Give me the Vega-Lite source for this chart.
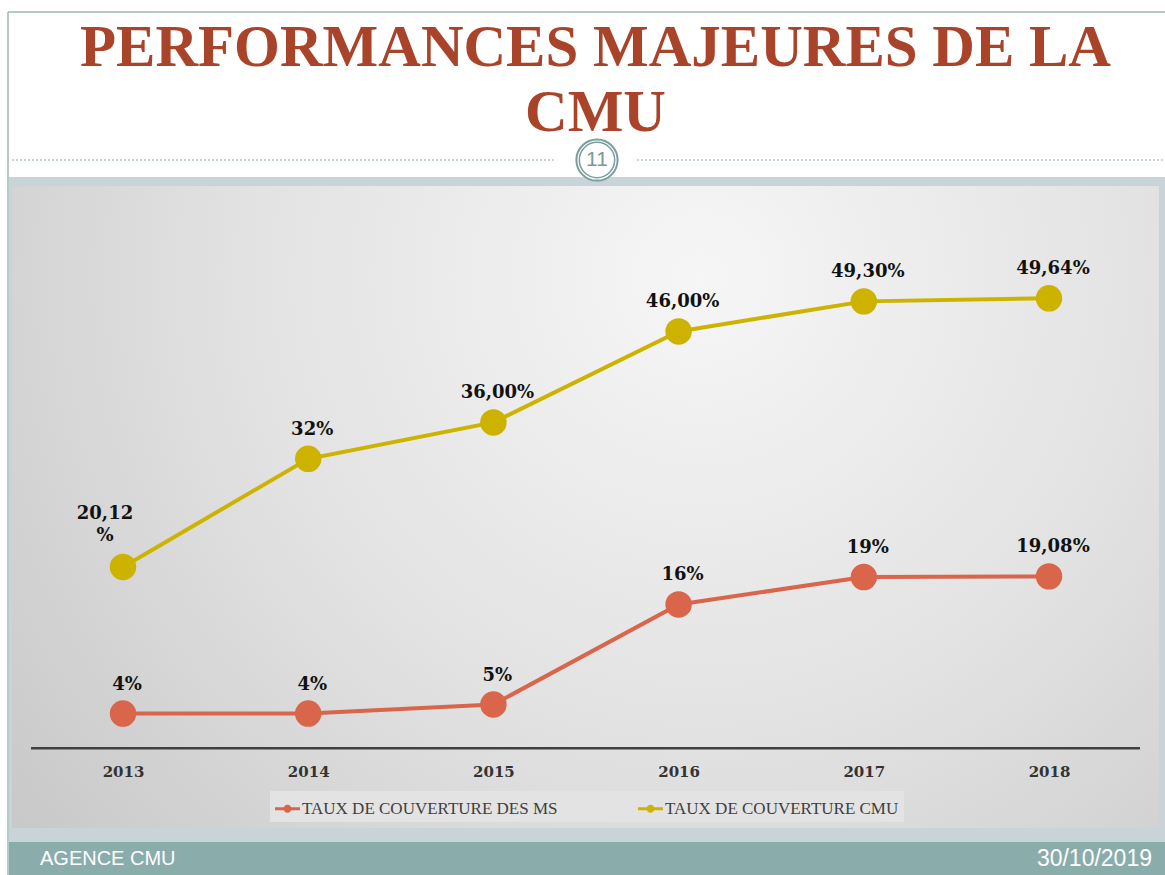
{
  "$schema": "https://vega.github.io/schema/vega-lite/v6.json",
  "autosize": "none",
  "width": 1165,
  "height": 875,
  "padding": 0,
  "background": "#ffffff",
  "title": {
    "text": ["PERFORMANCES MAJEURES DE LA", "CMU"],
    "font": "Liberation Serif",
    "fontSize": 59,
    "fontWeight": "bold",
    "color": "#a9442b",
    "anchor": "middle",
    "frame": "group",
    "lineHeight": 65,
    "offset": -143,
    "dx": 13
  },
  "config": {
    "view": {"stroke": null},
    "text": {"lineBreak": "\n"}
  },
  "resolve": {
    "axis": {"x": "independent", "y": "independent"},
    "legend": {"color": "independent"}
  },
  "data": {
    "values": [
      {"year": 2013, "series": "TAUX DE COUVERTURE DES MS", "value": 4, "label": "4%"},
      {"year": 2014, "series": "TAUX DE COUVERTURE DES MS", "value": 4, "label": "4%"},
      {"year": 2015, "series": "TAUX DE COUVERTURE DES MS", "value": 5, "label": "5%"},
      {"year": 2016, "series": "TAUX DE COUVERTURE DES MS", "value": 16, "label": "16%"},
      {"year": 2017, "series": "TAUX DE COUVERTURE DES MS", "value": 19, "label": "19%"},
      {"year": 2018, "series": "TAUX DE COUVERTURE DES MS", "value": 19.08, "label": "19,08%"},
      {"year": 2013, "series": "TAUX DE COUVERTURE CMU", "value": 20.12, "label": "20,12\n%"},
      {"year": 2014, "series": "TAUX DE COUVERTURE CMU", "value": 32, "label": "32%"},
      {"year": 2015, "series": "TAUX DE COUVERTURE CMU", "value": 36, "label": "36,00%"},
      {"year": 2016, "series": "TAUX DE COUVERTURE CMU", "value": 46, "label": "46,00%"},
      {"year": 2017, "series": "TAUX DE COUVERTURE CMU", "value": 49.3, "label": "49,30%"},
      {"year": 2018, "series": "TAUX DE COUVERTURE CMU", "value": 49.64, "label": "49,64%"}
    ]
  },
  "layer": [
    {
      "data": {"values": [{"k": 1}]},
      "mark": {"type": "rect", "color": "#c9d4d9"},
      "encoding": {
        "x": {"datum": 2012.38445, "type": "quantitative", "axis": null},
        "x2": {"datum": 2018.62635},
        "y": {"datum": 62.967, "type": "quantitative", "axis": null},
        "y2": {"datum": -10.110}
      }
    },
    {
      "data": {"values": [{"k": 1}]},
      "mark": {
        "type": "rect",
        "color": {
          "gradient": "radial",
          "x1": 0.6, "y1": 0.3, "r1": 0,
          "x2": 0.6, "y2": 0.3, "r2": 0.8,
          "stops": [
            {"offset": 0, "color": "#f6f6f6"},
            {"offset": 0.5, "color": "#e2e2e2"},
            {"offset": 1, "color": "#c6c6c6"}
          ]
        }
      },
      "encoding": {
        "x": {"datum": 2012.40065, "type": "quantitative", "axis": null},
        "x2": {"datum": 2018.59395},
        "y": {"datum": 61.978, "type": "quantitative", "axis": null},
        "y2": {"datum": -8.571}
      }
    },
    {
      "data": {"values": [{"k": 1}]},
      "mark": {"type": "rect", "color": "#8aacab"},
      "encoding": {
        "x": {"datum": 2012.38445, "type": "quantitative", "axis": null},
        "x2": {"datum": 2018.62635},
        "y": {"datum": -10.110, "type": "quantitative", "axis": null},
        "y2": {"datum": -13.736}
      }
    },
    {
      "data": {"values": [{"k": 1}]},
      "mark": {"type": "rule", "color": "#9fb8b8", "strokeWidth": 1.5},
      "encoding": {
        "x": {"datum": 2012.37905, "type": "quantitative", "axis": null},
        "x2": {"datum": 2018.62635},
        "y": {"datum": 81.099, "type": "quantitative", "axis": null}
      }
    },
    {
      "data": {"values": [{"k": 1}]},
      "mark": {"type": "rule", "color": "#9fb8b8", "strokeWidth": 1.5},
      "encoding": {
        "x": {"datum": 2012.37905, "type": "quantitative", "axis": null},
        "y": {"datum": 81.099, "type": "quantitative", "axis": null},
        "y2": {"datum": -13.736}
      }
    },
    {
      "data": {"values": [{"k": 1}]},
      "mark": {"type": "rule", "color": "#8fabab", "strokeWidth": 1, "strokeDash": [2, 2]},
      "encoding": {
        "x": {"datum": 2012.40065, "type": "quantitative", "axis": null},
        "x2": {"datum": 2015.33261},
        "y": {"datum": 64.835, "type": "quantitative", "axis": null}
      }
    },
    {
      "data": {"values": [{"k": 1}]},
      "mark": {"type": "rule", "color": "#8fabab", "strokeWidth": 1, "strokeDash": [2, 2]},
      "encoding": {
        "x": {"datum": 2015.77538, "type": "quantitative", "axis": null},
        "x2": {"datum": 2018.62635},
        "y": {"datum": 64.835, "type": "quantitative", "axis": null}
      }
    },
    {
      "data": {"values": [{"k": 1}]},
      "mark": {"type": "point", "shape": "circle", "filled": true, "fill": "#ffffff", "stroke": "#7a9e9e", "strokeWidth": 2, "opacity": 1, "size": 1700},
      "encoding": {
        "x": {"datum": 2015.5594, "type": "quantitative", "axis": null},
        "y": {"datum": 64.835, "type": "quantitative", "axis": null}
      }
    },
    {
      "data": {"values": [{"k": 1}]},
      "mark": {"type": "point", "shape": "circle", "filled": false, "stroke": "#7a9e9e", "strokeWidth": 1.5, "opacity": 1, "size": 1250},
      "encoding": {
        "x": {"datum": 2015.5594, "type": "quantitative", "axis": null},
        "y": {"datum": 64.835, "type": "quantitative", "axis": null}
      }
    },
    {
      "data": {"values": [{"t": "11"}]},
      "mark": {"type": "text", "font": "Liberation Sans", "fontSize": 21, "color": "#7a9a9a", "align": "center", "baseline": "middle"},
      "encoding": {
        "x": {"datum": 2015.5594, "type": "quantitative", "axis": null},
        "y": {"datum": 64.835, "type": "quantitative", "axis": null},
        "text": {"field": "t"}
      }
    },
    {
      "data": {"values": [{"t": "AGENCE CMU"}]},
      "mark": {"type": "text", "font": "Liberation Sans", "fontSize": 20, "color": "#ffffff", "align": "left", "baseline": "middle"},
      "encoding": {
        "x": {"datum": 2012.55184, "type": "quantitative", "axis": null},
        "y": {"datum": -11.978, "type": "quantitative", "axis": null},
        "text": {"field": "t"}
      }
    },
    {
      "data": {"values": [{"t": "30/10/2019"}]},
      "mark": {"type": "text", "font": "Liberation Sans", "fontSize": 23, "color": "#ffffff", "align": "right", "baseline": "middle"},
      "encoding": {
        "x": {"datum": 2018.55616, "type": "quantitative", "axis": null},
        "y": {"datum": -11.978, "type": "quantitative", "axis": null},
        "text": {"field": "t"}
      }
    },
    {
      "data": {"values": [{"k": 1}]},
      "mark": {"type": "rule", "color": "#404040", "strokeWidth": 2.5},
      "encoding": {
        "x": {"datum": 2012.50324, "type": "quantitative", "axis": null},
        "x2": {"datum": 2018.49136},
        "y": {"datum": 0.2, "type": "quantitative", "axis": null}
      }
    },
    {
      "mark": {"type": "line", "strokeWidth": 4},
      "encoding": {
        "x": {
          "field": "year", "type": "quantitative",
          "scale": {"domain": [2012.33585, 2018.62635], "nice": false, "zero": false},
          "axis": {
            "values": [2013, 2014, 2015, 2016, 2017, 2018],
            "format": "d", "zindex": 1,
            "domain": false, "ticks": false, "grid": false,
            "labelFont": "DejaVu Serif", "labelFontWeight": "bold", "labelFontSize": 15,
            "labelColor": "#333333", "labelPadding": 0, "labelFlush": false, "labelOverlap": false,
            "offset": -111, "title": null
          }
        },
        "y": {
          "field": "value", "type": "quantitative",
          "scale": {"domain": [-13.736, 82.418], "nice": false, "zero": false},
          "axis": null
        },
        "color": {
          "field": "series", "type": "nominal",
          "scale": {"domain": ["TAUX DE COUVERTURE DES MS", "TAUX DE COUVERTURE CMU"], "range": ["#d9654b", "#cdb300"]},
          "legend": null
        }
      }
    },
    {
      "mark": {"type": "point", "filled": true, "opacity": 1, "size": 700, "shape": "circle"},
      "encoding": {
        "x": {"field": "year", "type": "quantitative", "axis": null},
        "y": {"field": "value", "type": "quantitative", "axis": null},
        "color": {
          "field": "series", "type": "nominal",
          "legend": {
            "orient": "none", "legendX": 270, "legendY": 791, "direction": "horizontal",
            "title": null, "fillColor": "#e3e3e3", "padding": 5, "zindex": 1,
            "symbolType": "M-1,-0.12H1V0.12H-1Z M-0.32,0A0.32,0.32,0,1,1,0.32,0A0.32,0.32,0,1,1,-0.32,0Z",
            "symbolSize": 625, "symbolStrokeWidth": 0,
            "labelFont": "Liberation Serif", "labelFontSize": 17, "labelColor": "#404040",
            "labelLimit": 0, "labelOffset": 2, "columnPadding": 80
          }
        }
      }
    },
    {
      "transform": [{"filter": "indexof(datum.label, '\\n') < 0"}],
      "mark": {"type": "text", "font": "DejaVu Serif", "fontWeight": "bold", "fontSize": 18, "color": "#111111", "baseline": "bottom", "align": "center", "dy": -20, "dx": 4},
      "encoding": {
        "x": {"field": "year", "type": "quantitative", "axis": null},
        "y": {"field": "value", "type": "quantitative", "axis": null},
        "text": {"field": "label"}
      }
    },
    {
      "transform": [{"filter": "indexof(datum.label, '\\n') >= 0"}],
      "mark": {"type": "text", "font": "DejaVu Serif", "fontWeight": "bold", "fontSize": 18, "color": "#111111", "baseline": "bottom", "align": "center", "dy": -44, "dx": -18, "lineHeight": 22},
      "encoding": {
        "x": {"field": "year", "type": "quantitative", "axis": null},
        "y": {"field": "value", "type": "quantitative", "axis": null},
        "text": {"field": "label"}
      }
    }
  ]
}
